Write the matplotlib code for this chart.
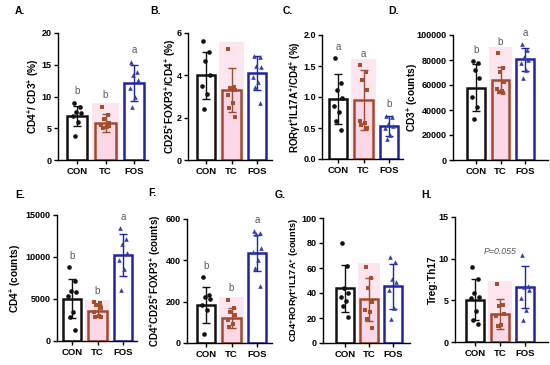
import matplotlib
matplotlib.use("Agg")
import matplotlib.pyplot as plt
import numpy as np

plt.rcParams['font.family'] = ['Liberation Sans', 'DejaVu Sans']
plt.rcParams['font.weight'] = 'bold'
plt.rcParams['axes.labelweight'] = 'bold'
plt.rcParams['mathtext.fontset'] = 'custom'
plt.rcParams['mathtext.rm'] = 'Liberation Sans:bold'
plt.rcParams['mathtext.it'] = 'Liberation Sans:italic:bold'
plt.rcParams['mathtext.bf'] = 'Liberation Sans:bold'
plt.rcParams['mathtext.default'] = 'rm'

groups = ['CON', 'TC', 'FOS']

# A. CD4+/CD3+ (%)
a_con = [9.0, 8.3, 7.6, 7.4, 6.9, 6.0, 3.8]
a_tc = [8.4, 7.1, 6.4, 5.9, 5.5, 5.2, 5.0, 5.3]
a_fos = [15.5, 13.9, 13.4, 12.6, 11.3, 10.0, 8.4]
a_mean = [6.9, 5.8, 12.1]
a_sd = [1.6, 1.4, 2.8]
a_letters = ['b', 'b', 'a']

# B. CD25+FOXP3+/CD4+ (%)
b_con = [5.6, 5.1, 4.7, 4.0, 3.5, 3.1, 2.4]
b_tc = [5.25, 3.45, 3.4, 3.3, 3.05, 2.7, 2.45, 2.05]
b_fos = [4.9, 4.85, 4.45, 4.4, 3.9, 3.7, 3.45, 2.7]
b_mean = [4.0, 3.3, 4.1]
b_sd = [1.1, 1.05, 0.8]

# C. RORyt+IL17A+/CD4+ (%)
c_con = [1.63, 1.22, 1.12, 0.98, 0.86, 0.76, 0.62, 0.47]
c_tc = [1.52, 1.40, 1.27, 1.11, 0.62, 0.58, 0.55, 0.50]
c_fos = [0.70, 0.68, 0.56, 0.54, 0.50, 0.38, 0.32]
c_mean = [0.97, 0.95, 0.53]
c_sd = [0.40, 0.48, 0.16]
c_letters = ['a', 'a', 'b']

# D. CD3+ (counts)
d_con = [79200, 77300, 72000, 65300, 50700, 42700, 32800]
d_tc = [85300, 73300, 70700, 62700, 56500, 55500, 54700, 53300]
d_fos = [92800, 88000, 82700, 80000, 77300, 72000, 65300]
d_mean = [58000, 64000, 80500]
d_sd = [18500, 10500, 9300]
d_letters = ['b', 'b', 'a']

# E. CD4+ (counts)
e_con = [8800, 7100, 5900, 5800, 5300, 3500, 2900, 1300]
e_tc = [4600, 4500, 4300, 3900, 3500, 3000, 2800, 2900]
e_fos = [13400, 12200, 11500, 10500, 9600, 8600, 6050]
e_mean = [5050, 3600, 10250]
e_sd = [2350, 700, 2500]
e_letters = ['b', 'b', 'a']

# F. CD4+CD25+FOXP3+ (counts)
f_con = [320, 231, 223, 215, 183, 158, 45]
f_tc = [210, 167, 150, 134, 110, 90, 78]
f_fos = [542, 530, 526, 458, 442, 401, 361, 275]
f_mean = [183, 123, 437]
f_sd = [88, 48, 88]
f_letters = ['b', 'b', 'a']

# G. CD4+RORyt+IL17A+ (counts)
g_con = [80, 62, 44, 40, 37, 34, 30, 21]
g_tc = [60.6, 52.3, 43.7, 33, 26.8, 25, 19.6, 12.3]
g_fos = [68.6, 65, 51, 49, 42.4, 28.4, 19.6]
g_mean = [43.7, 34.9, 45.6]
g_sd = [18.8, 17.0, 18.0]

# H. Treg:Th17
h_con = [9.0, 7.56, 5.88, 5.4, 5.28, 3.68, 2.68, 2.2]
h_tc = [6.96, 4.48, 4.36, 3.36, 3.08, 2.08, 1.88]
h_fos = [10.5, 6.7, 6.6, 6.28, 5.28, 3.88, 2.68]
h_mean = [5.1, 3.4, 6.6]
h_sd = [2.5, 1.8, 2.5]

edge_colors = ['#111111', '#a14a2c', '#2222a8']
point_colors = ['#111111', '#a5502c', '#2f3fb0']
markers = ['o', 's', '^']
jitter = [-0.12, 0.1, -0.04, 0.14, -0.15, 0.05, -0.08, 0.12]

W, H = 550, 365
fig = plt.figure(figsize=(5.5, 3.65), dpi=100)


def make_axes(left, right, cx0, cx2, bottom, top, label_x):
    ax = fig.add_axes([left / W, (H - bottom) / H, (right - left) / W, (bottom - top) / H])
    s = (cx2 - cx0) / 2
    ax.set_xlim(-(cx0 - left) / s, 2 + (right - cx2) / s)
    ax.yaxis.set_label_coords((label_x - left) / (right - left), 0.5)
    return ax


def panel(ax, data, mean, sd, yticks, ylabel, letters=None, fmt=None, label_size=7.3):
    x = np.arange(3)
    top = yticks[-1]
    # pink highlight behind TC group
    ax.bar(1, max(data[1]) * 1.06, width=0.95, color='#fde6f0', zorder=0)
    faces = ['white', '#fbd8e7', 'white']
    ax.bar(x, mean, width=0.72, facecolor=faces, edgecolor=edge_colors,
           linewidth=1.8, zorder=1)
    for i in range(3):
        ax.errorbar(i, mean[i], yerr=sd[i], color=edge_colors[i], capsize=3,
                    elinewidth=1, capthick=1, zorder=3)
        vals = data[i]
        ax.scatter(i + np.array(jitter[:len(vals)]), vals, marker=markers[i],
                   s=11, color=point_colors[i], zorder=4, linewidths=0)
        if letters:
            y = max(max(vals), mean[i] + sd[i]) + top * 0.05
            ax.text(i, y, letters[i], ha='center', va='bottom', fontsize=7,
                    color='#5a5a5a', fontweight='normal')
    ax.set_ylim(0, top)
    ax.set_yticks(yticks)
    if fmt:
        ax.set_yticklabels([fmt.format(t) for t in yticks])
    ax.set_xticks(x)
    ax.set_xticklabels(groups)
    ax.spines['top'].set_visible(False)
    ax.spines['right'].set_visible(False)
    ax.spines['left'].set_linewidth(1)
    ax.spines['bottom'].set_linewidth(1)
    ax.tick_params(axis='y', labelsize=6.5, length=3, width=1, pad=1.5)
    ax.tick_params(axis='x', labelsize=6.8, length=3, width=1, pad=2)
    ax.set_ylabel(ylabel, fontsize=label_size, va='center')


axA = make_axes(58, 148, 77, 134, 160, 33, 33)
panel(axA, [a_con, a_tc, a_fos], a_mean, a_sd, [0, 5, 10, 15, 20],
      'CD4$^{+}$/ CD3$^{+}$ (%)', a_letters)
axB = make_axes(188, 272, 206, 257, 160, 33, 170)
panel(axB, [b_con, b_tc, b_fos], b_mean, b_sd, [0, 2, 4, 6],
      'CD25$^{+}$FOXP3$^{+}$/CD4$^{+}$ (%)')
axC = make_axes(322, 403, 338, 389, 159, 35, 295)
panel(axC, [c_con, c_tc, c_fos], c_mean, c_sd, [0, 0.5, 1.0, 1.5, 2.0],
      'RORγt$^{+}$IL17A$^{+}$/CD4$^{+}$ (%)', c_letters, fmt='{:.1f}', label_size=7)
axD = make_axes(453, 548, 476, 525, 160, 35, 412)
panel(axD, [d_con, d_tc, d_fos], d_mean, d_sd, [0, 20000, 40000, 60000, 80000, 100000],
      'CD3$^{+}$ (counts)', d_letters)
axE = make_axes(57, 137, 72, 123, 341, 215, 15)
panel(axE, [e_con, e_tc, e_fos], e_mean, e_sd, [0, 5000, 10000, 15000],
      'CD4$^{+}$ (counts)', e_letters)
axF = make_axes(187, 272, 206, 257, 343, 219, 155)
panel(axF, [f_con, f_tc, f_fos], f_mean, f_sd, [0, 200, 400, 600],
      'CD4$^{+}$CD25$^{+}$FOXP3$^{+}$ (counts)', f_letters, label_size=7)
axG = make_axes(323, 410, 345, 393, 343, 218, 294)
panel(axG, [g_con, g_tc, g_fos], g_mean, g_sd, [0, 20, 40, 60, 80, 100],
      'CD4$^{+}$RORγt$^{+}$IL17A$^{+}$ (counts)', label_size=6.6)
axH = make_axes(455, 548, 475, 525, 342, 217, 433)
panel(axH, [h_con, h_tc, h_fos], h_mean, h_sd, [0, 5, 10, 15], 'Treg:Th17')
axH.text(1, 10.9, 'P=0.055', ha='center', va='center', fontsize=6.3,
         style='italic', color='#555555', fontweight='normal')

for lab, (px, py) in zip(['A.', 'B.', 'C.', 'D.', 'E.', 'F.', 'G.', 'H.'],
                         [(15, 11), (150, 11), (283, 11), (388, 11),
                          (15, 195), (148, 193), (275, 195), (421, 195)]):
    fig.text(px / W, 1 - py / H, lab, fontsize=7.5, fontweight='bold', va='center')

fig.savefig('out.png', dpi=100)
